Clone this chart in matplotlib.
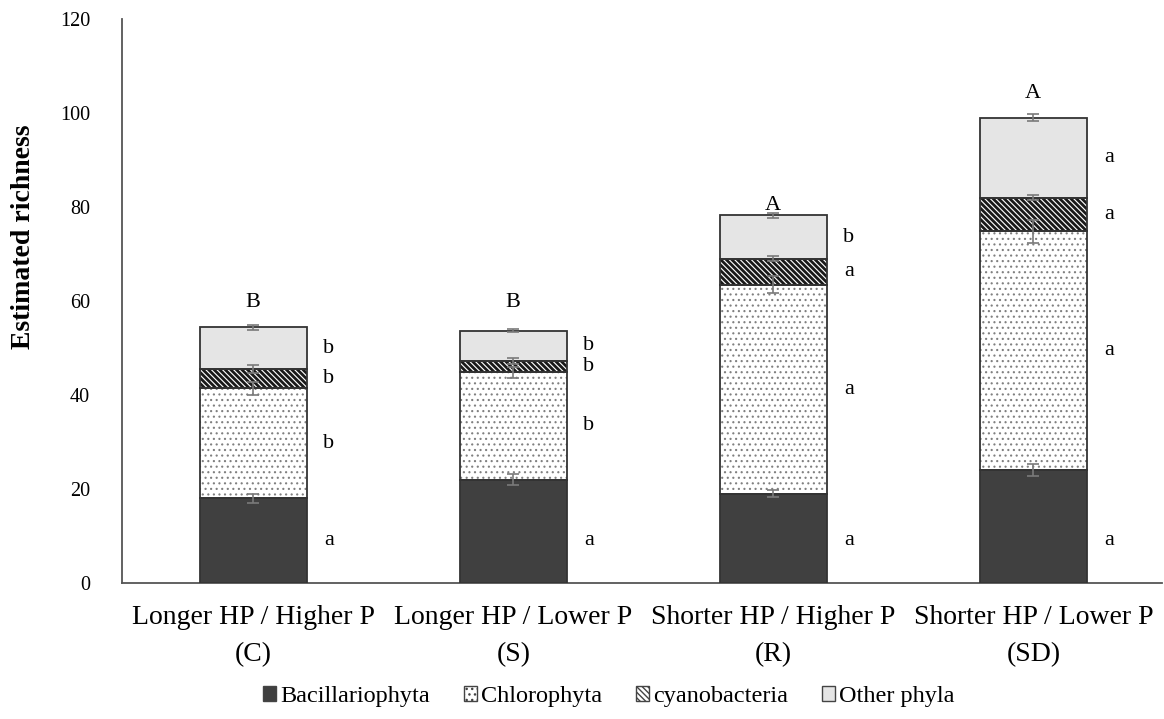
import numpy as np
import matplotlib
matplotlib.use('Agg')
import matplotlib.pyplot as plt
from matplotlib.patches import Patch

plt.rcParams['font.family'] = ['Liberation Serif', 'DejaVu Serif']

treatments = ['Longer HP / Higher P\n(C)', 'Longer HP / Lower P\n(S)',
              'Shorter HP / Higher P\n(R)', 'Shorter HP / Lower P\n(SD)']
phyla = ['Bacillariophyta', 'Chlorophyta', 'cyanobacteria', 'Other phyla']

# richness per phylum, one list per phylum (C, S, R, SD)
bacillariophyta = [18.0, 22.0, 19.0, 24.0]
chlorophyta = [23.4, 22.8, 44.5, 50.8]
cyanobacteria = [4.1, 2.4, 5.5, 7.2]
other_phyla = [8.9, 6.5, 9.2, 17.0]

# standard errors
se_bacillariophyta = [1.0, 1.2, 0.8, 1.3]
se_chlorophyta = [1.3, 1.2, 1.8, 2.5]
se_cyanobacteria = [0.8, 0.6, 0.5, 0.5]
se_other = [0.5, 0.3, 0.5, 0.8]

# post-hoc letters per phylum and for total richness
letters_bacillariophyta = ['a', 'a', 'a', 'a']
letters_chlorophyta = ['b', 'b', 'a', 'a']
letters_cyanobacteria = ['b', 'b', 'a', 'a']
letters_other = ['b', 'b', 'b', 'a']
letters_total = ['B', 'B', 'A', 'A']

values = [bacillariophyta, chlorophyta, cyanobacteria, other_phyla]
errors = [se_bacillariophyta, se_chlorophyta, se_cyanobacteria, se_other]
letters = [letters_bacillariophyta, letters_chlorophyta, letters_cyanobacteria, letters_other]

styles = [
    dict(facecolor='#404040', hatch=None, hatchcolor='#404040'),
    dict(facecolor='white', hatch='...', hatchcolor='#808080'),
    dict(facecolor='white', hatch='\\\\\\\\\\\\', hatchcolor='#1a1a1a'),
    dict(facecolor='#e5e5e5', hatch=None, hatchcolor='#e5e5e5'),
]
hatch_lw = [1.0, 0.8, 2.0, 1.0]
top_pad = [5.3, 6.0, 2.1, 5.1]
base_letter_y = 9.1   # letters of the bottom segment sit at a fixed height

edge = '#333333'
width = 0.41

fig = plt.figure(figsize=(11.64, 7.19), dpi=100)
ax = fig.add_axes([0.1048, 0.1892, 0.8935, 0.7844])

x = np.arange(len(treatments))
bottom = np.zeros(len(treatments))
for i, (vals, errs, labs, st, hlw) in enumerate(zip(values, errors, letters, styles, hatch_lw)):
    vals = np.array(vals)
    with plt.rc_context({'hatch.linewidth': hlw, 'hatch.color': st['hatchcolor']}):
        # hatch layer drawn in its own colour, then a plain outline on top
        ax.bar(x, vals, width, bottom=bottom, color=st['facecolor'],
               edgecolor=st['hatchcolor'], hatch=st['hatch'], linewidth=0, zorder=2)
    ax.bar(x, vals, width, bottom=bottom, fill=False, edgecolor=edge,
           linewidth=1.3, zorder=3)
    tops = bottom + vals
    ax.errorbar(x, tops, yerr=errs, fmt='none', ecolor='#7a7a7a',
                elinewidth=1.2, capsize=4, capthick=1.2, zorder=4)
    ly = np.full(len(x), base_letter_y) if i == 0 else bottom + vals / 2
    for xi, y, lab in zip(x, ly, labs):
        ax.text(xi + width / 2 + 0.085, y, lab, fontsize=16,
                ha='center', va='center')
    bottom = tops

for xi, tot, lab, pad in zip(x, bottom, letters_total, top_pad):
    ax.text(xi, tot + pad, lab, fontsize=16, ha='center', va='center')

ax.set_xlim(-0.505, 3.495)
ax.set_ylim(0, 120)
ax.set_yticks(np.arange(0, 121, 20))
ax.set_xticks(x)
ax.set_xticklabels(treatments, fontsize=20, linespacing=1.6)
ax.tick_params(axis='y', length=0, pad=23, labelsize=14.5)
ax.tick_params(axis='x', length=0, pad=16)
for s in ['top', 'right']:
    ax.spines[s].set_visible(False)
for s in ['left', 'bottom']:
    ax.spines[s].set_color('#555555')
    ax.spines[s].set_linewidth(1.3)

ax.set_ylabel('Estimated richness', fontsize=20, fontweight='bold')
ax.yaxis.set_label_coords(-0.0825, 0.613)

handles = []
for name, st, hlw in zip(phyla, styles, hatch_lw):
    with plt.rc_context({'hatch.linewidth': hlw * 0.6, 'hatch.color': st['hatchcolor']}):
        handles.append(Patch(facecolor=st['facecolor'], edgecolor='#444444',
                             hatch=st['hatch'], linewidth=1.0, label=name))
fig.legend(handles=handles, loc='center', bbox_to_anchor=(0.523, 0.031),
           ncol=4, frameon=False, fontsize=17.5, handlelength=0.55,
           handleheight=0.55, handletextpad=0.15, columnspacing=1.4)

fig.savefig('out.png', dpi=100)
